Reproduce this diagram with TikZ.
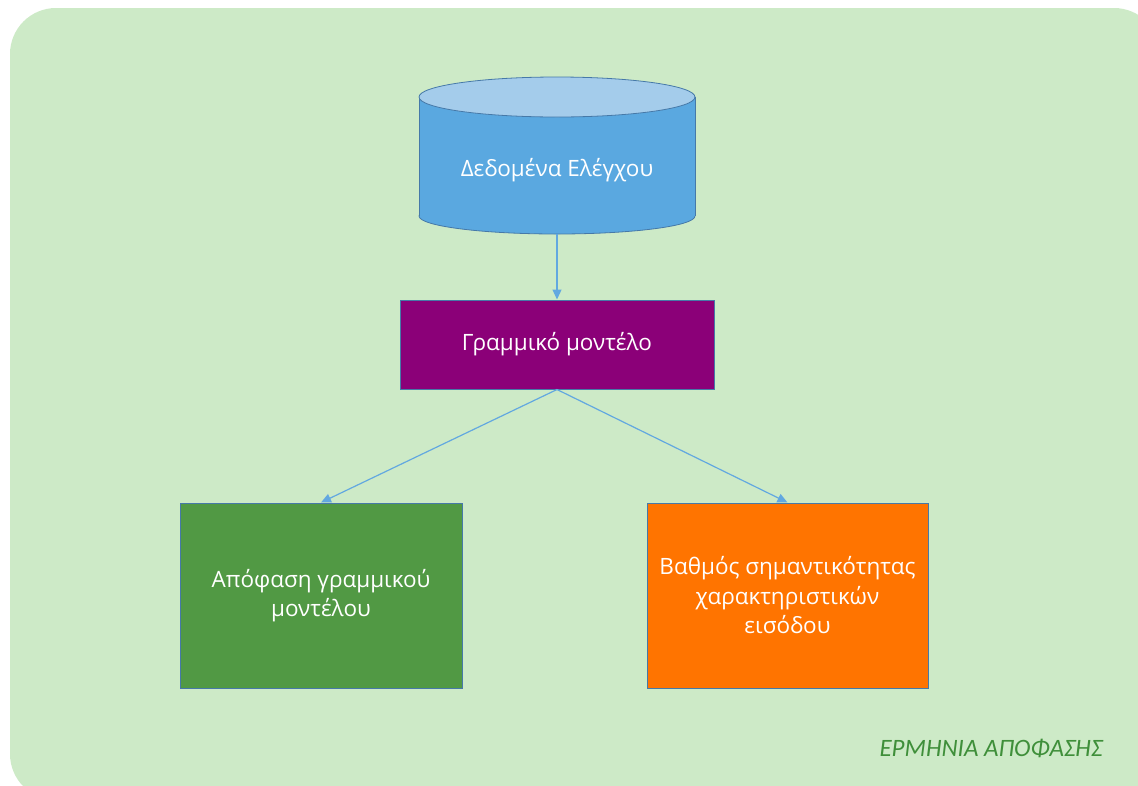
\documentclass[tikz,border=0pt]{standalone}
\usepackage{fontspec}
\setmainfont{Open Sans}
\newfontfamily\notefont{Carlito}
\usetikzlibrary{arrows.meta}
\definecolor{panelbg}{HTML}{CDEAC7}
\definecolor{dbbody}{HTML}{5AA8E0}
\definecolor{dbtop}{HTML}{A4CCEB}
\definecolor{edge}{HTML}{4679A8}
\definecolor{linkblue}{HTML}{62A8E0}
\definecolor{modelpurple}{HTML}{8B0078}
\definecolor{decgreen}{HTML}{519944}
\definecolor{rankorange}{HTML}{FF7400}
\definecolor{notegreen}{HTML}{3F8F3A}
\tikzset{
  boxtext/.style={text=white, font=\fontsize{22.5}{29.5}\selectfont, align=center},
  procbox/.style={draw=edge, line width=1pt, boxtext, inner sep=0pt},
  link/.style={draw=linkblue, line width=1.2pt, -{Triangle[length=10pt,width=9pt]}},
}
\begin{document}
\begin{tikzpicture}[x=1pt,y=-1pt]
\useasboundingbox (0,0) rectangle (1138,785);
% panel
\fill[panelbg, rounded corners=46pt] (10,8) rectangle (1160,800);
% data store cylinder
\filldraw[fill=dbbody, draw=edge, line width=0.8pt] (557,216) ellipse [x radius=138, y radius=18];
\fill[dbbody] (419,97) rectangle (695,216);
\draw[edge, line width=0.8pt] (419,97) -- (419,216) (695,97) -- (695,216);
\filldraw[fill=dbtop, draw=edge, line width=0.8pt] (557,97) ellipse [x radius=138, y radius=20];
\node[boxtext] (dbtext) at (557,170) {Δεδομένα Ελέγχου};
\coordinate (dbbottom) at (557,234);
% processing boxes
\node[procbox, fill=modelpurple, minimum width=314, minimum height=89] (model) at (557,344.5) {Γραμμικό μοντέλο};
\node[procbox, fill=decgreen, minimum width=282, minimum height=185] (decision) at (321,595.5) {Απόφαση γραμμικού\\μοντέλου};
\node[procbox, fill=rankorange, minimum width=281, minimum height=185] (ranking) at (787.5,595.5) {Βαθμός σημαντικότητας\\χαρακτηριστικών\\εισόδου};
% connectors
\draw[link] (dbbottom) -- (model.north);
\draw[link] (model.south) -- (decision.north);
\draw[link] (model.south) -- (ranking.north);
% caption
\node[text=notegreen, font=\notefont\itshape\fontsize{25}{28}\selectfont, anchor=east] (caption) at (1106,748) {ΕΡΜΗΝΙΑ ΑΠΟΦΑΣΗΣ};
\end{tikzpicture}
\end{document}
